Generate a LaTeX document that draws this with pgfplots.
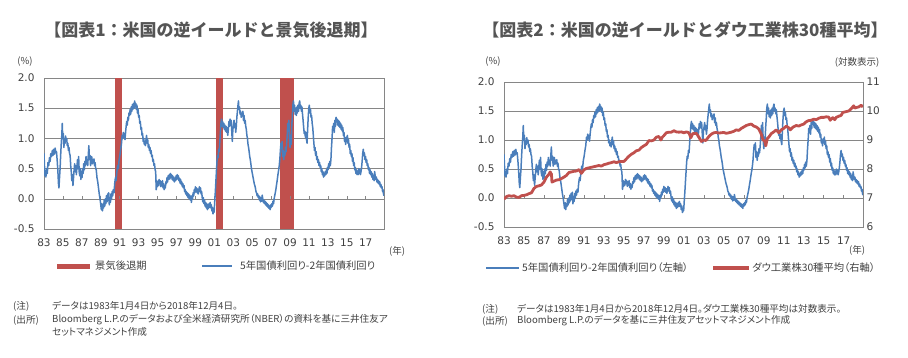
\documentclass[border=0pt]{standalone}
\usepackage{fontspec}
\usepackage{pgfplots}
\usepackage{pgfplotstable}
\pgfplotsset{compat=1.18}
\setmainfont{DejaVu Sans}
\newfontfamily\jp{Noto Sans CJK JP}[RawFeature=+palt]
\newfontfamily\jpt{Noto Sans CJK JP}
\definecolor{lblue}{HTML}{4A7EBB}
\definecolor{lred}{HTML}{C0504D}
\definecolor{gridc}{HTML}{868686}
\definecolor{txt}{HTML}{404040}
\definecolor{ttl}{HTML}{555555}

\pgfplotstableread[row sep=\\]{
x y\\
1983.00 0.75\\ 1983.05 0.55\\ 1983.10 0.38\\ 1983.15 0.45\\ 1983.20 0.36\\ 1983.28 0.50\\ 1983.35 0.42\\ 1983.42 0.60\\ 1983.50 0.55\\ 1983.58 0.68\\
1983.65 0.62\\ 1983.72 0.75\\ 1983.80 0.70\\ 1983.88 0.80\\ 1983.95 0.72\\ 1984.03 0.82\\ 1984.10 0.74\\ 1984.18 0.84\\ 1984.25 0.76\\ 1984.32 0.78\\
1984.40 0.62\\ 1984.47 0.45\\ 1984.53 0.25\\ 1984.58 0.18\\ 1984.64 0.35\\ 1984.70 0.50\\ 1984.76 0.72\\ 1984.82 0.90\\ 1984.88 1.05\\ 1984.93 1.25\\
1984.98 1.00\\ 1985.04 1.08\\ 1985.10 0.85\\ 1985.16 0.98\\ 1985.22 0.92\\ 1985.28 1.04\\ 1985.34 0.95\\ 1985.40 1.00\\ 1985.46 0.88\\ 1985.52 0.92\\
1985.58 0.80\\ 1985.64 0.85\\ 1985.70 0.75\\ 1985.76 0.72\\ 1985.82 0.55\\ 1985.88 0.45\\ 1985.94 0.30\\ 1986.00 0.40\\ 1986.06 0.22\\ 1986.12 0.35\\
1986.18 0.48\\ 1986.24 0.58\\ 1986.30 0.45\\ 1986.36 0.55\\ 1986.42 0.40\\ 1986.48 0.52\\ 1986.54 0.65\\ 1986.60 0.50\\ 1986.66 0.70\\ 1986.72 0.45\\
1986.78 0.38\\ 1986.84 0.50\\ 1986.90 0.32\\ 1986.96 0.45\\ 1987.02 0.35\\ 1987.08 0.50\\ 1987.14 0.42\\ 1987.20 0.58\\ 1987.26 0.48\\ 1987.32 0.62\\
1987.38 0.55\\ 1987.44 0.70\\ 1987.50 0.58\\ 1987.56 0.65\\ 1987.62 0.55\\ 1987.68 0.72\\ 1987.74 0.88\\ 1987.80 0.65\\ 1987.86 0.72\\ 1987.92 0.55\\
1987.98 0.62\\ 1988.04 0.70\\ 1988.10 0.58\\ 1988.16 0.65\\ 1988.22 0.60\\ 1988.28 0.66\\ 1988.34 0.55\\ 1988.40 0.60\\ 1988.46 0.50\\ 1988.52 0.48\\
1988.60 0.35\\ 1988.68 0.28\\ 1988.76 0.18\\ 1988.84 0.08\\ 1988.92 0.00\\ 1989.00 -0.10\\ 1989.06 -0.18\\ 1989.12 -0.08\\ 1989.18 -0.20\\ 1989.24 -0.10\\
1989.30 -0.15\\ 1989.36 -0.02\\ 1989.42 -0.12\\ 1989.48 0.00\\ 1989.54 -0.08\\ 1989.60 0.05\\ 1989.66 -0.05\\ 1989.72 0.08\\ 1989.78 -0.02\\ 1989.84 0.10\\
1989.90 -0.10\\ 1989.96 0.02\\ 1990.02 -0.06\\ 1990.08 0.08\\ 1990.14 0.00\\ 1990.20 0.12\\ 1990.26 0.05\\ 1990.32 0.15\\ 1990.40 0.10\\ 1990.47 0.25\\
1990.55 0.35\\ 1990.62 0.30\\ 1990.70 0.45\\ 1990.78 0.55\\ 1990.86 0.50\\ 1990.94 0.65\\ 1991.02 0.72\\ 1991.10 0.82\\ 1991.18 0.90\\ 1991.26 1.05\\
1991.32 1.00\\ 1991.38 1.10\\ 1991.44 1.02\\ 1991.50 1.08\\ 1991.56 0.98\\ 1991.62 1.10\\ 1991.68 1.20\\ 1991.74 1.28\\ 1991.80 1.22\\ 1991.86 1.35\\
1991.92 1.30\\ 1991.98 1.42\\ 1992.04 1.38\\ 1992.10 1.48\\ 1992.16 1.40\\ 1992.22 1.52\\ 1992.28 1.45\\ 1992.34 1.56\\ 1992.40 1.48\\ 1992.46 1.58\\
1992.52 1.50\\ 1992.58 1.62\\ 1992.64 1.52\\ 1992.70 1.58\\ 1992.76 1.48\\ 1992.82 1.55\\ 1992.88 1.42\\ 1992.94 1.48\\ 1993.00 1.35\\ 1993.06 1.38\\
1993.12 1.25\\ 1993.18 1.28\\ 1993.24 1.15\\ 1993.30 1.18\\ 1993.36 1.05\\ 1993.42 1.08\\ 1993.48 0.95\\ 1993.54 1.00\\ 1993.60 0.90\\ 1993.66 0.95\\
1993.72 0.88\\ 1993.78 0.98\\ 1993.84 1.05\\ 1993.90 0.92\\ 1993.96 0.98\\ 1994.02 0.85\\ 1994.08 0.90\\ 1994.14 0.80\\ 1994.20 0.85\\ 1994.26 0.75\\
1994.32 0.80\\ 1994.38 0.70\\ 1994.44 0.72\\ 1994.50 0.62\\ 1994.56 0.65\\ 1994.62 0.55\\ 1994.68 0.58\\ 1994.74 0.48\\ 1994.80 0.45\\ 1994.86 0.15\\
1994.92 0.30\\ 1994.98 0.20\\ 1995.04 0.28\\ 1995.10 0.22\\ 1995.16 0.32\\ 1995.22 0.25\\ 1995.28 0.30\\ 1995.34 0.20\\ 1995.40 0.28\\ 1995.46 0.22\\
1995.52 0.30\\ 1995.58 0.18\\ 1995.64 0.25\\ 1995.70 0.15\\ 1995.76 0.22\\ 1995.82 0.18\\ 1995.88 0.28\\ 1995.94 0.25\\ 1996.00 0.35\\ 1996.06 0.28\\
1996.12 0.38\\ 1996.18 0.32\\ 1996.24 0.40\\ 1996.30 0.33\\ 1996.36 0.42\\ 1996.42 0.35\\ 1996.48 0.40\\ 1996.54 0.32\\ 1996.60 0.38\\ 1996.66 0.30\\
1996.72 0.36\\ 1996.78 0.28\\ 1996.84 0.34\\ 1996.90 0.30\\ 1996.96 0.38\\ 1997.02 0.32\\ 1997.08 0.40\\ 1997.14 0.33\\ 1997.20 0.38\\ 1997.26 0.30\\
1997.32 0.34\\ 1997.38 0.26\\ 1997.44 0.32\\ 1997.50 0.24\\ 1997.56 0.28\\ 1997.62 0.20\\ 1997.68 0.25\\ 1997.74 0.18\\ 1997.80 0.22\\ 1997.86 0.12\\
1997.92 0.15\\ 1997.98 0.08\\ 1998.04 0.12\\ 1998.10 0.05\\ 1998.16 0.10\\ 1998.22 0.02\\ 1998.28 0.08\\ 1998.34 0.00\\ 1998.40 0.06\\ 1998.46 -0.02\\
1998.52 0.04\\ 1998.58 -0.06\\ 1998.64 0.05\\ 1998.70 0.00\\ 1998.76 0.10\\ 1998.82 0.05\\ 1998.88 0.15\\ 1998.94 0.10\\ 1999.00 0.20\\ 1999.06 0.12\\
1999.12 0.18\\ 1999.18 0.10\\ 1999.24 0.16\\ 1999.30 0.08\\ 1999.36 0.14\\ 1999.42 0.20\\ 1999.48 0.12\\ 1999.54 0.18\\ 1999.60 0.08\\ 1999.66 0.12\\
1999.72 0.02\\ 1999.78 -0.05\\ 1999.84 0.02\\ 1999.90 -0.08\\ 1999.96 -0.02\\ 2000.02 -0.12\\ 2000.08 -0.06\\ 2000.14 -0.15\\ 2000.20 -0.08\\ 2000.26 -0.18\\
2000.32 -0.10\\ 2000.38 -0.16\\ 2000.44 -0.08\\ 2000.50 -0.14\\ 2000.56 -0.06\\ 2000.62 -0.15\\ 2000.68 -0.10\\ 2000.74 -0.20\\ 2000.80 -0.14\\ 2000.86 -0.25\\
2000.92 -0.18\\ 2000.98 -0.22\\ 2001.04 -0.05\\ 2001.10 0.10\\ 2001.16 0.28\\ 2001.22 0.45\\ 2001.28 0.62\\ 2001.34 0.72\\ 2001.40 0.68\\ 2001.46 0.82\\
2001.52 0.78\\ 2001.58 0.95\\ 2001.64 1.10\\ 2001.70 1.25\\ 2001.76 1.32\\ 2001.82 1.20\\ 2001.88 1.28\\ 2001.94 1.18\\ 2002.00 1.25\\ 2002.06 1.15\\
2002.12 1.22\\ 2002.18 1.12\\ 2002.24 1.20\\ 2002.30 1.10\\ 2002.36 1.18\\ 2002.42 1.05\\ 2002.48 1.15\\ 2002.54 1.28\\ 2002.60 1.20\\ 2002.66 1.32\\
2002.72 1.22\\ 2002.78 1.30\\ 2002.84 1.12\\ 2002.90 0.95\\ 2002.96 1.15\\ 2003.02 1.22\\ 2003.08 1.30\\ 2003.14 1.18\\ 2003.20 1.25\\ 2003.26 1.10\\
2003.32 1.20\\ 2003.38 1.35\\ 2003.44 1.45\\ 2003.50 1.55\\ 2003.55 1.62\\ 2003.60 1.48\\ 2003.66 1.52\\ 2003.72 1.40\\ 2003.78 1.45\\ 2003.84 1.35\\
2003.90 1.42\\ 2003.96 1.38\\ 2004.02 1.45\\ 2004.08 1.30\\ 2004.14 1.38\\ 2004.20 1.25\\ 2004.26 1.30\\ 2004.32 1.20\\ 2004.38 1.15\\ 2004.44 1.05\\
2004.50 1.00\\ 2004.56 0.90\\ 2004.62 0.85\\ 2004.68 0.78\\ 2004.74 0.70\\ 2004.80 0.65\\ 2004.86 0.58\\ 2004.92 0.50\\ 2004.98 0.45\\ 2005.04 0.40\\
2005.10 0.35\\ 2005.16 0.30\\ 2005.22 0.25\\ 2005.28 0.22\\ 2005.34 0.18\\ 2005.40 0.12\\ 2005.46 0.10\\ 2005.52 0.05\\ 2005.58 0.08\\ 2005.64 0.02\\
2005.70 0.05\\ 2005.76 -0.02\\ 2005.82 0.03\\ 2005.88 -0.05\\ 2005.94 0.02\\ 2006.00 -0.04\\ 2006.06 0.06\\ 2006.12 0.00\\ 2006.18 -0.06\\ 2006.24 -0.02\\
2006.30 -0.08\\ 2006.36 -0.04\\ 2006.42 -0.10\\ 2006.48 -0.06\\ 2006.54 -0.12\\ 2006.60 -0.08\\ 2006.66 -0.14\\ 2006.72 -0.10\\ 2006.78 -0.16\\ 2006.84 -0.12\\
2006.90 -0.18\\ 2006.96 -0.10\\ 2007.02 -0.14\\ 2007.08 -0.08\\ 2007.14 -0.12\\ 2007.20 -0.04\\ 2007.26 -0.08\\ 2007.32 0.00\\ 2007.38 0.05\\ 2007.44 0.10\\
2007.50 0.15\\ 2007.56 0.22\\ 2007.62 0.28\\ 2007.68 0.35\\ 2007.74 0.42\\ 2007.80 0.48\\ 2007.86 0.55\\ 2007.92 0.65\\ 2007.98 0.80\\ 2008.04 0.92\\
2008.10 0.85\\ 2008.16 0.95\\ 2008.22 0.70\\ 2008.28 0.80\\ 2008.34 0.65\\ 2008.40 0.78\\ 2008.46 0.72\\ 2008.52 0.85\\ 2008.58 0.78\\ 2008.64 0.90\\
2008.70 1.05\\ 2008.76 1.25\\ 2008.82 1.12\\ 2008.88 1.30\\ 2008.94 1.00\\ 2009.00 0.85\\ 2009.06 1.05\\ 2009.12 0.90\\ 2009.18 1.20\\ 2009.24 1.35\\
2009.30 1.55\\ 2009.36 1.62\\ 2009.42 1.45\\ 2009.48 1.55\\ 2009.54 1.40\\ 2009.60 1.50\\ 2009.66 1.38\\ 2009.72 1.52\\ 2009.78 1.42\\ 2009.84 1.55\\
2009.90 1.45\\ 2009.96 1.58\\ 2010.02 1.62\\ 2010.08 1.50\\ 2010.14 1.55\\ 2010.20 1.45\\ 2010.26 1.52\\ 2010.32 1.40\\ 2010.38 1.30\\ 2010.44 1.18\\
2010.50 1.08\\ 2010.56 1.12\\ 2010.62 1.02\\ 2010.68 1.10\\ 2010.74 0.98\\ 2010.80 0.92\\ 2010.86 1.15\\ 2010.92 1.35\\ 2010.98 1.50\\ 2011.04 1.55\\
2011.10 1.42\\ 2011.16 1.48\\ 2011.22 1.35\\ 2011.28 1.38\\ 2011.34 1.25\\ 2011.40 1.18\\ 2011.46 1.05\\ 2011.52 0.92\\ 2011.58 0.80\\ 2011.64 0.85\\
2011.70 0.72\\ 2011.76 0.78\\ 2011.82 0.65\\ 2011.88 0.70\\ 2011.94 0.60\\ 2012.00 0.65\\ 2012.06 0.55\\ 2012.12 0.60\\ 2012.18 0.52\\ 2012.24 0.55\\
2012.30 0.45\\ 2012.36 0.50\\ 2012.42 0.40\\ 2012.48 0.45\\ 2012.54 0.36\\ 2012.60 0.42\\ 2012.66 0.38\\ 2012.72 0.45\\ 2012.78 0.40\\ 2012.84 0.48\\
2012.90 0.42\\ 2012.96 0.52\\ 2013.02 0.48\\ 2013.08 0.58\\ 2013.14 0.52\\ 2013.20 0.62\\ 2013.26 0.55\\ 2013.32 0.65\\ 2013.38 0.85\\ 2013.44 1.00\\
2013.50 1.20\\ 2013.56 1.15\\ 2013.62 1.25\\ 2013.68 1.10\\ 2013.74 1.30\\ 2013.80 1.20\\ 2013.86 1.35\\ 2013.92 1.28\\ 2013.98 1.32\\ 2014.04 1.22\\
2014.10 1.30\\ 2014.16 1.20\\ 2014.22 1.28\\ 2014.28 1.18\\ 2014.34 1.25\\ 2014.40 1.15\\ 2014.46 1.22\\ 2014.52 1.12\\ 2014.58 1.18\\ 2014.64 1.05\\
2014.70 1.10\\ 2014.76 0.95\\ 2014.82 1.00\\ 2014.88 0.90\\ 2014.94 1.02\\ 2015.00 0.95\\ 2015.06 1.05\\ 2015.12 0.92\\ 2015.18 0.98\\ 2015.24 0.85\\
2015.30 0.90\\ 2015.36 0.75\\ 2015.42 0.80\\ 2015.48 0.70\\ 2015.54 0.75\\ 2015.60 0.62\\ 2015.66 0.68\\ 2015.72 0.55\\ 2015.78 0.60\\ 2015.84 0.48\\
2015.90 0.52\\ 2015.96 0.42\\ 2016.02 0.48\\ 2016.08 0.40\\ 2016.14 0.46\\ 2016.20 0.40\\ 2016.26 0.50\\ 2016.32 0.42\\ 2016.38 0.48\\ 2016.44 0.40\\
2016.50 0.45\\ 2016.56 0.52\\ 2016.62 0.62\\ 2016.68 0.75\\ 2016.74 0.82\\ 2016.80 0.72\\ 2016.86 0.76\\ 2016.92 0.65\\ 2016.98 0.70\\ 2017.04 0.60\\
2017.10 0.65\\ 2017.16 0.55\\ 2017.22 0.58\\ 2017.28 0.48\\ 2017.34 0.52\\ 2017.40 0.42\\ 2017.46 0.48\\ 2017.52 0.40\\ 2017.58 0.45\\ 2017.64 0.36\\
2017.70 0.42\\ 2017.76 0.32\\ 2017.82 0.38\\ 2017.88 0.30\\ 2017.94 0.45\\ 2018.00 0.38\\ 2018.06 0.32\\ 2018.12 0.36\\ 2018.18 0.28\\ 2018.24 0.32\\
2018.30 0.26\\ 2018.36 0.30\\ 2018.42 0.24\\ 2018.48 0.28\\ 2018.54 0.20\\ 2018.60 0.24\\ 2018.66 0.18\\ 2018.72 0.20\\ 2018.78 0.12\\ 2018.84 0.15\\
2018.88 0.08\\ 2018.92 0.05\\
}\spread

\pgfplotstableread[row sep=\\]{
x y\\
1983.00 6.96\\ 1983.25 7.05\\ 1983.50 7.08\\ 1983.75 7.06\\ 1984.00 7.08\\ 1984.25 7.03\\ 1984.50 7.02\\ 1984.75 7.08\\ 1985.00 7.09\\ 1985.25 7.11\\
1985.50 7.15\\ 1985.75 7.18\\ 1986.00 7.33\\ 1986.25 7.40\\ 1986.50 7.42\\ 1986.75 7.45\\ 1987.00 7.55\\ 1987.25 7.72\\ 1987.50 7.82\\ 1987.62 7.90\\
1987.75 7.82\\ 1987.80 7.55\\ 1988.00 7.58\\ 1988.25 7.62\\ 1988.50 7.63\\ 1988.75 7.67\\ 1989.00 7.72\\ 1989.25 7.78\\ 1989.50 7.88\\ 1989.75 7.90\\
1990.00 7.92\\ 1990.25 7.93\\ 1990.50 7.98\\ 1990.75 7.85\\ 1991.00 7.97\\ 1991.25 8.02\\ 1991.50 8.04\\ 1991.75 8.06\\ 1992.00 8.08\\ 1992.25 8.10\\
1992.50 8.12\\ 1992.75 8.10\\ 1993.00 8.15\\ 1993.25 8.17\\ 1993.50 8.20\\ 1993.75 8.22\\ 1994.00 8.25\\ 1994.25 8.22\\ 1994.50 8.25\\ 1994.75 8.26\\
1995.00 8.26\\ 1995.25 8.35\\ 1995.50 8.44\\ 1995.75 8.51\\ 1996.00 8.56\\ 1996.25 8.63\\ 1996.50 8.65\\ 1996.75 8.74\\ 1997.00 8.80\\ 1997.25 8.85\\
1997.50 8.98\\ 1997.75 8.97\\ 1998.00 9.00\\ 1998.25 9.10\\ 1998.50 9.12\\ 1998.70 9.00\\ 1998.85 9.10\\ 1999.00 9.15\\ 1999.25 9.25\\ 1999.50 9.27\\
1999.75 9.27\\ 2000.00 9.32\\ 2000.25 9.28\\ 2000.50 9.27\\ 2000.75 9.28\\ 2001.00 9.25\\ 2001.25 9.28\\ 2001.50 9.25\\ 2001.70 9.08\\ 2001.90 9.22\\
2002.25 9.23\\ 2002.50 9.10\\ 2002.75 8.95\\ 2003.00 9.00\\ 2003.20 8.98\\ 2003.50 9.12\\ 2003.75 9.20\\ 2004.00 9.25\\ 2004.25 9.26\\ 2004.50 9.24\\
2004.75 9.25\\ 2005.00 9.26\\ 2005.25 9.23\\ 2005.50 9.25\\ 2005.75 9.27\\ 2006.00 9.30\\ 2006.25 9.35\\ 2006.50 9.33\\ 2006.75 9.40\\ 2007.00 9.45\\
2007.25 9.50\\ 2007.50 9.53\\ 2007.75 9.55\\ 2008.00 9.48\\ 2008.25 9.45\\ 2008.50 9.38\\ 2008.75 9.20\\ 2008.90 9.02\\ 2009.10 8.95\\ 2009.20 8.80\\
2009.35 9.05\\ 2009.50 9.10\\ 2009.75 9.22\\ 2010.00 9.28\\ 2010.25 9.35\\ 2010.50 9.25\\ 2010.75 9.35\\ 2011.00 9.40\\ 2011.25 9.48\\ 2011.50 9.42\\
2011.65 9.35\\ 2011.90 9.44\\ 2012.25 9.50\\ 2012.50 9.48\\ 2012.75 9.52\\ 2013.00 9.55\\ 2013.25 9.63\\ 2013.50 9.67\\ 2013.75 9.68\\ 2014.00 9.72\\
2014.25 9.70\\ 2014.50 9.75\\ 2014.75 9.78\\ 2015.00 9.78\\ 2015.25 9.80\\ 2015.50 9.79\\ 2015.65 9.68\\ 2015.90 9.77\\ 2016.10 9.70\\ 2016.25 9.78\\
2016.50 9.82\\ 2016.75 9.85\\ 2016.90 9.95\\ 2017.25 9.98\\ 2017.50 10.00\\ 2017.75 10.08\\ 2018.00 10.18\\ 2018.10 10.10\\ 2018.25 10.12\\ 2018.50 10.14\\
2018.75 10.20\\ 2018.92 10.14\\
}\dow

\pgfplotsset{
  base/.style={
    scale only axis, anchor=south west,
    xmin=1983, xmax=2018.93,
    major tick length=0pt,
    axis line style={gridc, line width=0.6pt},
    tick label style={font=\fontsize{10.5}{12}\selectfont, text=txt},
    xtick={1983,1985,...,2017},
    xticklabels={83,85,87,89,91,93,95,97,99,01,03,05,07,09,11,13,15,17},
    x tick label style={yshift=-6pt},
  },
  spread/.style={
    ymin=-0.5, ymax=2,
    ytick={-0.5,0,0.5,1,1.5,2},
    ymajorgrids, grid style={gridc, line width=0.6pt},
    y tick label style={xshift=-6pt, /pgf/number format/.cd, fixed, fixed zerofill, precision=1, assume math mode=true},
  },
}

\begin{document}
\begin{tikzpicture}[x=1pt,y=1pt]
\path[use as bounding box] (0,0) rectangle (908,357);

% ---------- Chart 1 ----------
\node[text=ttl, font=\jpt\bfseries\fontsize{17}{20}\selectfont] at (211,327) {【図表1：米国の逆イールドと景気後退期】};
\node[text=txt, font=\jp\fontsize{9.5}{11}\selectfont] at (25,295) {(\%)};
\begin{axis}[base, spread, at={(44pt,128pt)}, width=340pt, height=151pt]
  \addplot[fill=lred, draw=none] coordinates {(1990.50,-0.5) (1990.50,2) (1991.21,2) (1991.21,-0.5)} -- cycle;
  \addplot[fill=lred, draw=none] coordinates {(2001.16,-0.5) (2001.16,2) (2001.88,2) (2001.88,-0.5)} -- cycle;
  \addplot[fill=lred, draw=none] coordinates {(2007.90,-0.5) (2007.90,2) (2009.46,2) (2009.46,-0.5)} -- cycle;
  \pgfplotsinvokeforeach{1985,1987,...,2017}{\draw[gridc, line width=0.6pt] (axis cs:#1,0) -- ([yshift=3pt]axis cs:#1,0);}
  \addplot[lblue, line width=1.5pt, line join=round] table[x=x,y=y] {\spread};
\end{axis}
\node[text=txt, font=\jp\fontsize{9.5}{11}\selectfont] at (397,106) {(年)};
% legend
\fill[lred] (57,88.5) rectangle (90,93.5);
\node[anchor=west, inner sep=0, text=txt, font=\jp\fontsize{10.3}{12}\selectfont] at (95,91) {景気後退期};
\draw[lblue, line width=1.5pt] (202,91) -- (232,91);
\node[anchor=west, inner sep=0, text=txt, font=\jp\fontsize{10.3}{12}\selectfont] at (240,91) {5年国債利回り-2年国債利回り};
% notes
\begin{scope}[every node/.style={anchor=west, inner sep=0, text=txt, font=\jp\fontsize{9.6}{11}\selectfont}]
\node at (13,51) {(注)};
\node at (52,51) {データは1983年1月4日から2018年12月4日。};
\node at (13,37) {(出所)};
\node at (52,37) {Bloomberg L.P.のデータおよび全米経済研究所（NBER）の資料を基に三井住友ア};
\node at (52,25) {セットマネジメント作成};
\end{scope}

% ---------- Chart 2 ----------
\node[text=ttl, font=\jpt\bfseries\fontsize{17}{20}\selectfont] at (685,327) {【図表2：米国の逆イールドとダウ工業株30種平均】};
\node[text=txt, font=\jp\fontsize{9.5}{11}\selectfont] at (493,295) {(\%)};
\node[text=txt, font=\jp\fontsize{9.5}{11}\selectfont] at (857,295) {(対数表示)};
\begin{axis}[base, spread, at={(504pt,130pt)}, width=359pt, height=145pt]
  \pgfplotsinvokeforeach{1985,1987,...,2017}{\draw[gridc, line width=0.6pt] (axis cs:#1,0) -- ([yshift=3pt]axis cs:#1,0);}
  \addplot[lblue, line width=1.5pt, line join=round] table[x=x,y=y] {\spread};
\end{axis}
\begin{axis}[scale only axis, anchor=south west, at={(504pt,130pt)}, width=359pt, height=145pt,
    xmin=1983, xmax=2018.93, ymin=6, ymax=11,
    axis y line*=right, axis x line=none,
    ytick={6,7,8,9,10,11}, major tick length=0pt,
    axis line style={gridc, line width=0.6pt},
    tick label style={font=\fontsize{10.5}{12}\selectfont, text=txt, /pgf/number format/assume math mode=true}]
  \addplot[lred, line width=2.8pt, line join=round] table[x=x,y=y] {\dow};
\end{axis}
\node[text=txt, font=\jp\fontsize{9.5}{11}\selectfont] at (857,107) {(年)};
% legend
\draw[lblue, line width=1.5pt] (486,89) -- (519,89);
\node[anchor=west, inner sep=0, text=txt, font=\jp\fontsize{10.3}{12}\selectfont] at (522,89) {5年国債利回り-2年国債利回り（左軸）};
\draw[lred, line width=4pt] (713,89) -- (749,89);
\node[anchor=west, inner sep=0, text=txt, font=\jp\fontsize{10.3}{12}\selectfont] at (752,89) {ダウ工業株30種平均（右軸）};
% notes
\begin{scope}[every node/.style={anchor=west, inner sep=0, text=txt, font=\jp\fontsize{9.6}{11}\selectfont}]
\node at (482,48) {(注)};
\node at (517,48) {データは1983年1月4日から2018年12月4日。ダウ工業株30種平均は対数表示。};
\node at (482,36) {(出所)};
\node at (517,36) {Bloomberg L.P.のデータを基に三井住友アセットマネジメント作成};
\end{scope}
\end{tikzpicture}
\end{document}
